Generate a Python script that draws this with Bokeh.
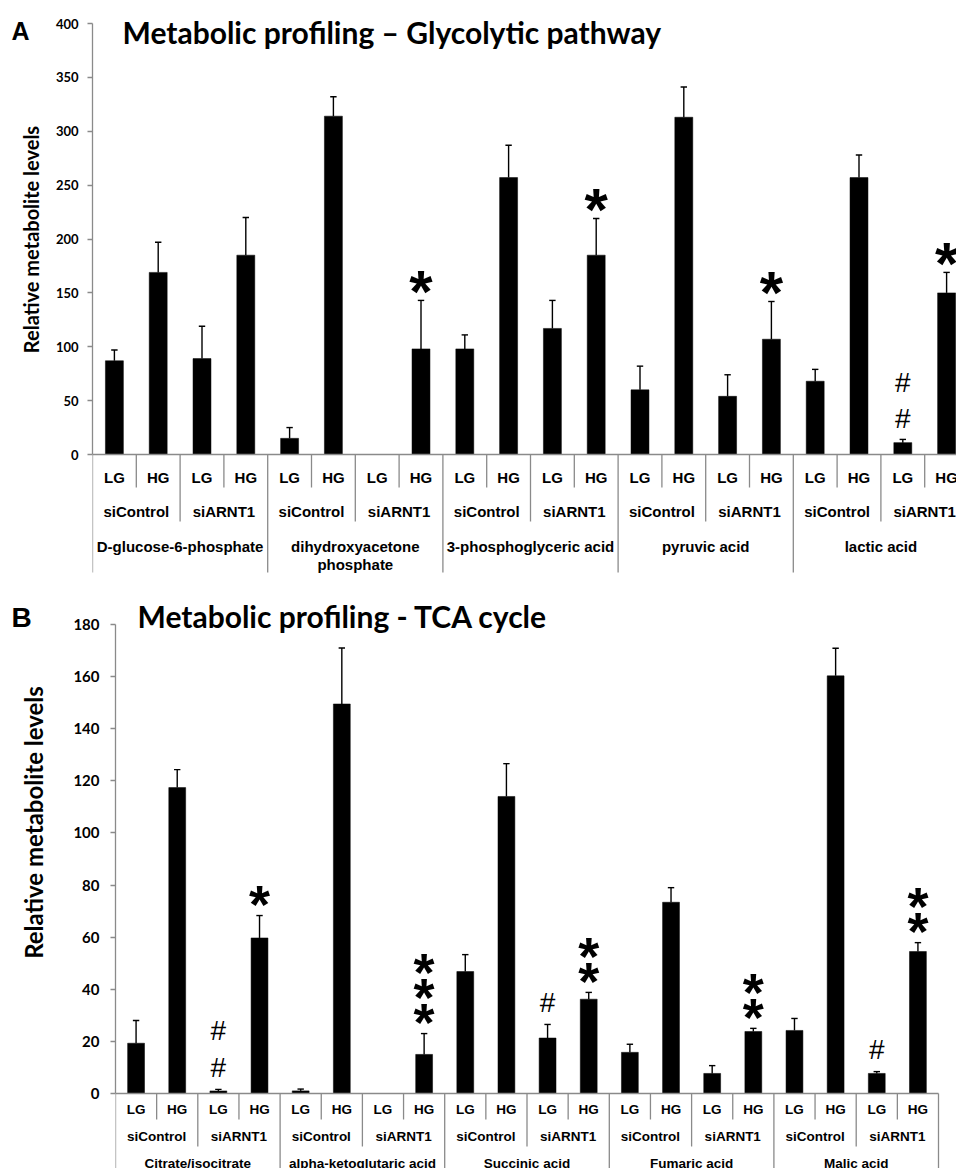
import math
import numpy as np
from bokeh.plotting import figure
from bokeh.models import ColumnDataSource, Range1d, SingleIntervalTicker
from bokeh.layouts import row
from bokeh.embed import file_html
from bokeh.resources import INLINE
from bokeh.core.properties import value

# ---------------- data ----------------
conditions = ["LG", "HG"]
groups = ["siControl", "siARNT1"]

glyco_metabolites = ["D-glucose-6-phosphate", "dihydroxyacetone\nphosphate",
                     "3-phosphoglyceric acid", "pyruvic acid", "lactic acid"]
glyco_mean = [87, 169, 89, 185, 15, 314, 0, 98, 98, 257, 117, 185,
              60, 313, 54, 107, 68, 257, 11, 150]
glyco_err = [10, 28, 30, 35, 10, 18, 0, 45, 13, 30, 26, 34,
             22, 28, 20, 35, 11, 21, 3, 19]
glyco_marks = ["", "", "", "", "", "", "", "*", "", "", "", "*",
               "", "", "", "*", "", "", "##", "*"]

tca_metabolites = ["Citrate/isocitrate", "alpha-ketoglutaric acid",
                   "Succinic acid", "Fumaric acid", "Malic acid"]
tca_mean = [19.3, 117.4, 1.0, 59.7, 1.0, 149.5, 0, 15.0, 46.8, 114.0,
            21.3, 36.2, 15.8, 73.4, 7.7, 23.8, 24.2, 160.3, 7.7, 54.5]
tca_err = [8.7, 6.9, 0.6, 8.6, 0.7, 21.5, 0, 8.0, 6.5, 12.6,
           5.2, 2.6, 3.1, 5.6, 3.0, 1.2, 4.6, 10.6, 0.7, 3.4]
tca_marks = ["", "", "##", "*", "", "", "", "***", "", "",
             "#", "**", "", "", "", "**", "", "", "#", "**"]

GRAY = "#8a8a8a"
INK = "#000000"
Y_LABEL = "Relative metabolite levels"


def side_panel(L):
    """Narrow strip left of the axis holding the panel letter and the y-axis title."""
    w, h = L["side_w"], L["fh"]
    s = figure(width=w, height=h, x_range=Range1d(0, w), y_range=Range1d(h, 0),
               output_backend="svg", toolbar_location=None,
               x_axis_location=None, y_axis_location=None,
               min_border_left=0, min_border_right=0,
               min_border_top=0, min_border_bottom=0)
    s.outline_line_color = None
    s.xgrid.visible = False
    s.ygrid.visible = False
    s.text(x=[11], y=[L["letter_y"]], text=[L["letter"]],
           text_font=value("Liberation Sans"), text_font_style="bold",
           text_font_size=L["letter_size"], text_color=INK,
           text_align="left", text_baseline="middle")
    s.text(x=[L["ylab_x"]], y=[L["ylab_y"]], text=[Y_LABEL], angle=math.pi / 2,
           text_font=value("Lato"), text_font_style="bold",
           text_font_size=L["ylab_size"], text_color=INK,
           text_align="center", text_baseline="middle")
    return s


def build_panel(metabolites, means, errs, marks, L):
    fw, fh = L["fw"], L["fh"]
    left = L["axis_x"]
    border = left - L["side_w"]
    cat_px, y0_px, ys = L["cat_px"], L["y0_px"], L["ys"]

    def xd(px):
        return (px - left) / cat_px

    def yd(py):
        return (y0_px - py) / ys

    p = figure(frame_width=fw, frame_height=fh,
               x_range=Range1d(0, fw / cat_px), y_range=Range1d(yd(fh), yd(0)),
               output_backend="svg", toolbar_location=None,
               x_axis_location=None,
               min_border_left=border, min_border_right=0,
               min_border_top=0, min_border_bottom=0)
    p.outline_line_color = None
    p.xgrid.visible = False
    p.ygrid.visible = False

    ax = p.yaxis[0]
    ax.bounds = (0, L["ymax"])
    ax.ticker = SingleIntervalTicker(interval=L["interval"], num_minor_ticks=0)
    ax.minor_tick_line_color = None
    ax.major_tick_in = 0
    ax.major_tick_out = 5
    ax.axis_line_color = GRAY
    ax.axis_line_width = 1.3
    ax.major_tick_line_color = GRAY
    ax.major_tick_line_width = 1.3
    ax.major_label_text_font = "Lato"
    ax.major_label_text_font_style = "bold"
    ax.major_label_text_font_size = L["tick_size"]
    ax.major_label_text_color = INK
    ax.major_label_standoff = L["tick_standoff"]

    n = len(means)
    xs = np.arange(n) + 0.5
    means = np.array(means, dtype=float)
    errs = np.array(errs, dtype=float)

    has = means > 0
    p.vbar(x=xs[has], top=means[has], bottom=0, width=0.41,
           fill_color=INK, line_color=INK, line_width=0.5)

    e = errs > 0
    tops = means + errs
    cap = 3.2 / cat_px
    p.segment(x0=xs[e], y0=means[e], x1=xs[e], y1=tops[e],
              line_color=INK, line_width=1.4)
    p.segment(x0=xs[e] - cap, y0=tops[e], x1=xs[e] + cap, y1=tops[e],
              line_color=INK, line_width=1.4)

    # baseline of the category axis
    p.segment(x0=[0], y0=[0], x1=[n], y1=[0], line_color=GRAY, line_width=1.6)

    # category separators (three levels)
    short, medium, long_ = L["sep"]
    bx, by1 = [], []
    for b in range(n + 1):
        ln = long_ if b % 4 == 0 else (medium if b % 2 == 0 else short)
        bx.append(b)
        by1.append(yd(y0_px + ln))
    p.segment(x0=bx, y0=[0] * len(bx), x1=bx, y1=by1,
              line_color=GRAY, line_width=1.3)

    # category labels
    font = value("Liberation Sans")
    cond_lab = [conditions[i % 2] for i in range(n)]
    p.text(x=xs, y=[yd(L["cond_y"])] * n, text=cond_lab,
           text_font=font, text_font_style="bold",
           text_font_size=L["cat_size"], text_color=INK,
           text_align="center", text_baseline="middle")
    ng = n // 2
    grp_lab = [groups[j % 2] for j in range(ng)]
    p.text(x=np.arange(ng) * 2 + 1.0, y=[yd(L["grp_y"])] * ng, text=grp_lab,
           text_font=font, text_font_style="bold",
           text_font_size=L["cat_size"], text_color=INK,
           text_align="center", text_baseline="middle")
    nm = len(metabolites)
    p.text(x=np.arange(nm) * 4 + 2.0, y=[yd(L["met_y"])] * nm, text=metabolites,
           text_font=font, text_font_style="bold",
           text_font_size=L["cat_size"], text_color=INK,
           text_align="center", text_baseline="top", text_line_height=1.1)

    # significance marks, stacked above the error bar
    star_rows = {"x": [], "y": [], "t": []}
    hash_rows = {"x": [], "y": [], "t": []}
    for i, m in enumerate(marks):
        if not m:
            continue
        top_px = y0_px - tops[i] * ys
        for k, ch in enumerate(m):
            if ch == "*":
                cy = top_px - L["gap"] - k * L["star_sp"]
                star_rows["x"].append(xs[i])
                star_rows["y"].append(yd(cy + L["star_adj"] * L["star_size"]))
                star_rows["t"].append(ch)
            else:
                cy = top_px - L["gap"] - k * L["hash_sp"]
                hash_rows["x"].append(xs[i])
                hash_rows["y"].append(yd(cy + L["hash_adj"] * L["hash_size"]))
                hash_rows["t"].append(ch)
    if star_rows["x"]:
        p.text(x="x", y="y", text="t", source=ColumnDataSource(star_rows),
               text_font=font, text_font_style="bold",
               text_font_size=f'{L["star_size"]}px', text_color=INK,
               text_align="center", text_baseline="middle")
    if hash_rows["x"]:
        p.text(x="x", y="y", text="t", source=ColumnDataSource(hash_rows),
               text_font=font, text_font_style="normal",
               text_font_size=f'{L["hash_size"]}px', text_color=INK,
               text_align="center", text_baseline="middle")

    # panel title
    p.text(x=[xd(L["title_x"])], y=[yd(L["title_y"])], text=[L["title"]],
           text_font=value("Lato"), text_font_style="bold",
           text_font_size=L["title_size"], text_color=INK,
           text_align="left", text_baseline="middle")
    return p


top_layout = dict(axis_x=92, side_w=40, fw=864, fh=580, cat_px=43.8,
                  y0_px=454, ys=431 / 400,
                  ymax=400, interval=50, tick_size="13px", tick_standoff=9,
                  sep=(33, 67, 118), cond_y=477, grp_y=511, met_y=537,
                  cat_size="15px", gap=21, star_sp=25, hash_sp=36,
                  star_size=60, star_adj=0.2, hash_size=28, hash_adj=0.0,
                  title="Metabolic profiling \u2013 Glycolytic pathway",
                  title_x=122, title_y=31, title_size="30px",
                  letter="A", letter_y=30, letter_size="25px",
                  ylab_x=30, ylab_y=239, ylab_size="20px")

bot_layout = dict(axis_x=115, side_w=46, fw=841, fh=588, cat_px=41.15,
                  y0_px=513, ys=469 / 180,
                  ymax=180, interval=20, tick_size="15px", tick_standoff=11,
                  sep=(26, 53, 120), cond_y=529, grp_y=556, met_y=575,
                  cat_size="13.5px", gap=22, star_sp=25, hash_sp=37,
                  star_size=54, star_adj=0.2, hash_size=28, hash_adj=0.0,
                  title="Metabolic profiling - TCA cycle",
                  title_x=137, title_y=35, title_size="30px",
                  letter="B", letter_y=37, letter_size="28px",
                  ylab_x=33, ylab_y=242, ylab_size="24px")

p1 = build_panel(glyco_metabolites, glyco_mean, glyco_err, glyco_marks, top_layout)
p2 = build_panel(tca_metabolites, tca_mean, tca_err, tca_marks, bot_layout)

top_row = row(side_panel(top_layout), p1, spacing=0)
bottom_row = row(side_panel(bot_layout), p2, spacing=0)

open("out.html", "w").write(file_html([top_row, bottom_row], INLINE))
